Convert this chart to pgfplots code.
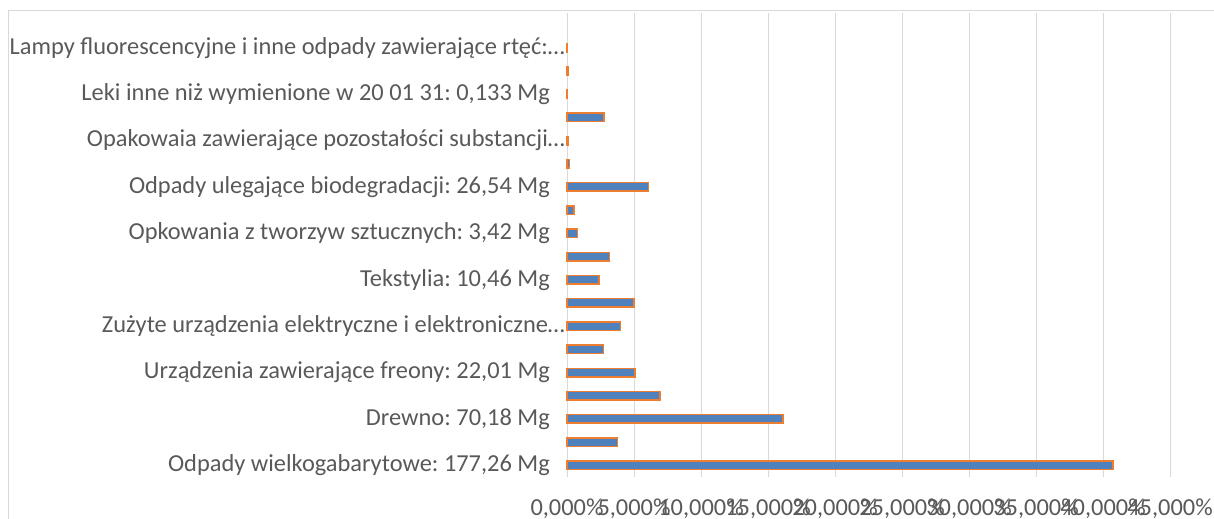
\documentclass[border=0pt]{standalone}
\usepackage{pgfplots}
\pgfplotsset{compat=1.18}
\usepackage{fontspec}
\setmainfont{Carlito}
\frenchspacing
\definecolor{txt}{HTML}{595959}
\definecolor{gridc}{HTML}{D9D9D9}
\definecolor{barblue}{HTML}{4F81BD}
\definecolor{barorange}{HTML}{ED7D31}
\begin{document}
\fontsize{24.4bp}{29bp}\selectfont
\begin{tikzpicture}
\useasboundingbox (0,0) rectangle (1214bp,519bp);
\draw[gridc, line width=1bp] (8.5bp,-5bp) -- (8.5bp,508.5bp) -- (1230bp,508.5bp);
\begin{axis}[
  at={(567bp,42bp)}, anchor=south west,
  scale only axis, width=603bp, height=464bp,
  xmin=0, xmax=45, ymin=-0.5, ymax=19.5,
  axis line style={draw=none},
  major tick length=0pt,
  xmajorgrids, ymajorgrids=false, grid style={draw=gridc, line width=1bp},
  xtick={0,5,...,45},
  xticklabels={{0,000\%},{5,000\%},{10,000\%},{15,000\%},{20,000\%},{25,000\%},{30,000\%},{35,000\%},{40,000\%},{45,000\%}},
  xticklabel style={font=\fontsize{24.4bp}{29bp}\selectfont, text=txt, anchor=base, yshift=-38bp},
  ytick={0,2,...,18},
  yticklabels={
    {Odpady wielkogabarytowe: 177,26 Mg\hspace*{15bp}},
    {Drewno: 70,18 Mg\hspace*{15bp}},
    {Urządzenia zawierające freony: 22,01 Mg\hspace*{15bp}},
    {Zużyte urządzenia elektryczne i elektroniczne…},
    {Tekstylia: 10,46 Mg\hspace*{15bp}},
    {Opkowania z tworzyw sztucznych: 3,42 Mg\hspace*{15bp}},
    {Odpady ulegające biodegradacji: 26,54 Mg\hspace*{15bp}},
    {Opakowaia zawierające pozostałości substancji…},
    {Leki inne niż wymienione w 20 01 31: 0,133 Mg\hspace*{15bp}},
    {Lampy fluorescencyjne i inne odpady zawierające rtęć:…}},
  yticklabel style={font=\fontsize{24.4bp}{29bp}\selectfont, text=txt, anchor=east, xshift=-2bp, inner sep=0pt},
  clip=false,
]
\addplot[xbar, bar width=8.5bp, bar shift=0pt, fill=barblue, draw=barorange, line width=1.5bp]
coordinates {
(40.75,0) (3.78,1) (16.13,2) (6.93,3) (5.06,4) (2.72,5) (3.98,6) (5.00,7)
(2.40,8) (3.17,9) (0.79,10) (0.51,11) (6.10,12) (0.19,13) (0.08,14) (2.76,15)
(0.03,16) (0.13,17) (0.05,18)
};
\end{axis}
\end{tikzpicture}
\end{document}
